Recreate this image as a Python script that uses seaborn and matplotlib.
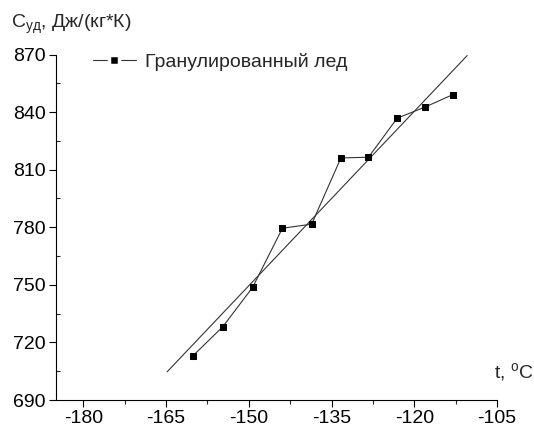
import matplotlib
matplotlib.use('Agg')
import matplotlib.pyplot as plt
from matplotlib.ticker import MultipleLocator
import numpy as np
import pandas as pd
import seaborn as sns

# temperature, deg C
t = [-160.1, -154.7, -149.3, -143.9, -138.6, -133.3, -128.3, -123.1, -118.0, -113.0]
# specific heat, J/(kg*K)
c = [713.1, 728.2, 748.7, 779.5, 781.6, 816.1, 816.5, 836.8, 842.7, 849.1]
# range over which the linear fit is drawn
fit_range = [-164.8, -110.4]

label = 'Гранулированный лед'
x_ticks = [-180, -165, -150, -135, -120, -105]
y_ticks = [690, 720, 750, 780, 810, 840, 870]

sns.set_style('ticks')
plt.rcParams['font.family'] = ['Liberation Sans', 'DejaVu Sans']
plt.rcParams['mathtext.fontset'] = 'custom'
plt.rcParams['mathtext.rm'] = 'Liberation Sans'
plt.rcParams['axes.unicode_minus'] = False

fs = 14

df = pd.DataFrame({'t': t, 'c': c})
slope, icept = np.polyfit(t, c, 1)
fit_df = pd.DataFrame({'t': fit_range, 'c': [slope * v + icept for v in fit_range]})

fig = plt.figure(figsize=(5.34, 4.34), dpi=100)
ax = fig.add_axes([0.1043, 0.0783, 0.8264, 0.7961])

sns.lineplot(data=fit_df, x='t', y='c', ax=ax, color='#333333', lw=0.8)
sns.lineplot(data=df, x='t', y='c', ax=ax, color='#333333', lw=0.8, marker='s',
             markersize=5, markerfacecolor='black', markeredgecolor='black',
             label=label)

ax.set_xlim(-185, -105)
ax.set_ylim(690, 870)
ax.set_xticks(x_ticks)
ax.set_yticks(y_ticks)
ax.xaxis.set_minor_locator(MultipleLocator(7.5))
ax.yaxis.set_minor_locator(MultipleLocator(15))
ax.tick_params(axis='both', which='major', labelsize=fs, length=5, width=0.8,
               colors='black', direction='out', pad=2)
ax.tick_params(axis='x', which='minor', length=3, width=0.8, direction='out')
ax.tick_params(axis='y', which='minor', length=3, width=0.8, direction='in')
sns.despine(ax=ax)
for s in ['left', 'bottom']:
    ax.spines[s].set_linewidth(0.8)
    ax.spines[s].set_color('black')
ax.set_xlabel('')
ax.set_ylabel('')

leg = ax.legend(loc='upper left', bbox_to_anchor=(0.0845, 1.005), frameon=False,
                fontsize=fs, handlelength=2.2, handletextpad=0.5,
                borderpad=0, borderaxespad=0)
h = leg.legend_handles[0]
h.set_markeredgecolor('white')
h.set_markeredgewidth(2.5)
h.set_markersize(6.5)

fig.text(11 / 534, 1 - 28 / 434, r'C$_\mathregular{уд}$, Дж/(кг*К)', fontsize=fs,
         va='baseline', ha='left')
fig.text(494 / 534, 1 - 378 / 434, r't, $^\mathregular{o}$C', fontsize=fs,
         va='baseline', ha='left')

fig.savefig('out.png', dpi=100)
